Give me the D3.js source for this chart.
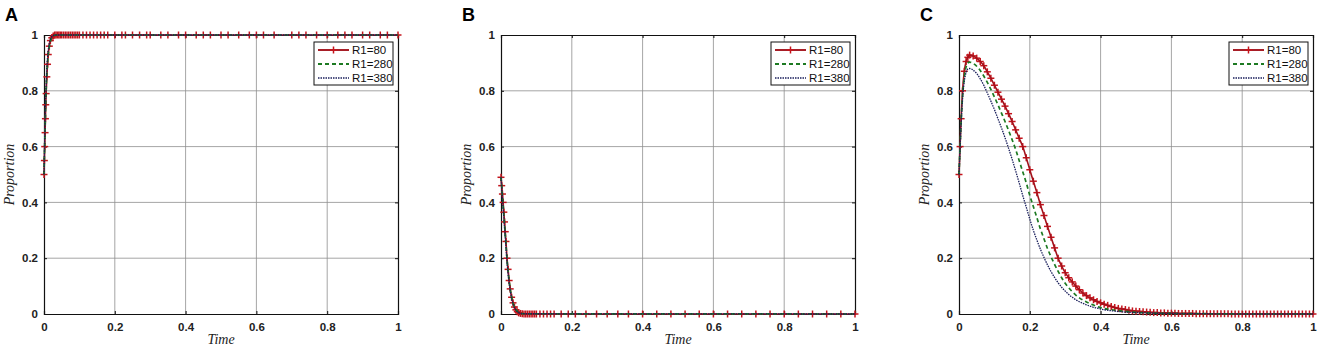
<!DOCTYPE html>
<html lang="en">
<head>
<meta charset="UTF-8">
<title>Proportion vs Time</title>
<script src="https://d3js.org/d3.v7.min.js"></script>
<style>
  body { margin: 0; background: #fff; }
  svg text { font-family: Arial, 'Liberation Sans', sans-serif; }
  .tick-label { font-size: 11.5px; font-weight: bold; fill: #222; }
  .axis-title { font-family: 'Liberation Serif', 'Times New Roman', serif !important; font-style: italic; font-size: 14px; fill: #222; }
  .legend-text { font-size: 11.5px; fill: #111; }
</style>
</head>
<body>
<svg id="chart" width="1325" height="354"></svg>
<script>
// ---- data ----
const panelLabels = ['A', 'B', 'C'];
const seriesNames = ['R1=80', 'R1=280', 'R1=380'];
const xTicks = [0, 0.2, 0.4, 0.6, 0.8, 1];
const yTicks = [0, 0.2, 0.4, 0.6, 0.8, 1];
const xTickLabels = ['0', '0.2', '0.4', '0.6', '0.8', '1'];
const yTickLabels = ['0', '0.2', '0.4', '0.6', '0.8', '1'];

// Panel A
const tA80 = [0, 0.001, 0.002, 0.003, 0.004, 0.005, 0.006, 0.008, 0.01, 0.012, 0.015, 0.018, 0.022, 0.026, 0.03,
  0.034, 0.038, 0.042, 0.046, 0.05, 0.055, 0.06, 0.065, 0.07, 0.075,
  0.08, 0.085, 0.09, 0.095, 0.1, 0.11, 0.12, 0.13, 0.14, 0.15,
  0.16, 0.17, 0.18, 0.2, 0.22, 0.23, 0.25, 0.27, 0.29, 0.3,
  0.33, 0.35, 0.38, 0.4, 0.43, 0.45, 0.47, 0.5, 0.52, 0.55,
  0.58, 0.6, 0.62, 0.65, 0.7, 0.72, 0.74, 0.77, 0.8, 0.83,
  0.85, 0.87, 0.9, 0.92, 0.95, 0.97, 1];
const yA80 = [0.5, 0.55, 0.6, 0.65, 0.7, 0.75, 0.79, 0.85, 0.895, 0.93, 0.96, 0.98, 0.99, 0.996, 1,
  1, 1, 1, 1, 1, 1, 1, 1, 1, 1,
  1, 1, 1, 1, 1, 1, 1, 1, 1, 1,
  1, 1, 1, 1, 1, 1, 1, 1, 1, 1,
  1, 1, 1, 1, 1, 1, 1, 1, 1, 1,
  1, 1, 1, 1, 1, 1, 1, 1, 1, 1,
  1, 1, 1, 1, 1, 1, 1];
const tAx = [0, 0.002, 0.004, 0.006, 0.008, 0.01, 0.013, 0.016, 0.02, 0.025, 0.03, 0.04, 1];
const yA280 = [0.5, 0.61, 0.71, 0.8, 0.86, 0.9, 0.94, 0.965, 0.985, 0.995, 0.999, 1, 1];
const yA380 = [0.5, 0.63, 0.74, 0.82, 0.88, 0.92, 0.955, 0.975, 0.99, 0.997, 1, 1, 1];

// Panel B
const tB80 = [0, 0.002, 0.004, 0.006, 0.008, 0.01, 0.012, 0.014, 0.017, 0.02,
  0.023, 0.026, 0.03, 0.034, 0.038, 0.042, 0.046, 0.05, 0.055, 0.06,
  0.065, 0.07, 0.075, 0.08, 0.085, 0.09, 0.095, 0.1, 0.11, 0.12,
  0.13, 0.14, 0.15, 0.17, 0.19, 0.21, 0.24, 0.27, 0.3, 0.33,
  0.36, 0.4, 0.44, 0.48, 0.52, 0.56, 0.6, 0.64, 0.68, 0.72,
  0.76, 0.8, 0.84, 0.88, 0.92, 0.96, 1];
const yB80 = [0.49, 0.46, 0.43, 0.4, 0.365, 0.33, 0.295, 0.26, 0.2, 0.16,
  0.12, 0.09, 0.06, 0.04, 0.025, 0.015, 0.008, 0.004, 0.002, 0.001,
  0, 0, 0, 0, 0, 0, 0, 0, 0, 0,
  0, 0, 0, 0, 0, 0, 0, 0, 0, 0,
  0, 0, 0, 0, 0, 0, 0, 0, 0, 0,
  0, 0, 0, 0, 0, 0, 0];
const tBx = [0, 0.003, 0.006, 0.01, 0.014, 0.018, 0.022, 0.026, 0.03, 0.035, 0.04, 0.05, 0.06, 1];
const yB280 = [0.49, 0.44, 0.39, 0.32, 0.25, 0.18, 0.13, 0.09, 0.06, 0.035, 0.02, 0.006, 0.001, 0];
const yB380 = [0.49, 0.435, 0.38, 0.31, 0.24, 0.17, 0.12, 0.085, 0.055, 0.032, 0.018, 0.005, 0.001, 0];

// Panel C
const tC80 = [0, 0.003, 0.006, 0.01, 0.015, 0.02, 0.025, 0.03,
  0.04, 0.05, 0.06, 0.07, 0.08, 0.09, 0.10, 0.11, 0.12, 0.13,
  0.14, 0.15, 0.16, 0.17, 0.18, 0.19, 0.20, 0.21, 0.22, 0.23,
  0.24, 0.25, 0.26, 0.27, 0.28, 0.29, 0.30, 0.31, 0.32, 0.33,
  0.34, 0.35, 0.36, 0.37, 0.38, 0.39, 0.40, 0.41, 0.42, 0.43,
  0.44, 0.45, 0.46, 0.47, 0.48, 0.49, 0.50, 0.51, 0.52, 0.53,
  0.54, 0.55, 0.56, 0.57, 0.58, 0.59, 0.60, 0.61, 0.62, 0.63,
  0.64, 0.65, 0.66, 0.67, 0.68, 0.69, 0.70, 0.71, 0.72, 0.73,
  0.74, 0.75, 0.76, 0.77, 0.78, 0.79, 0.80, 0.81, 0.82, 0.83,
  0.84, 0.85, 0.86, 0.87, 0.88, 0.89, 0.90, 0.91, 0.92, 0.93,
  0.94, 0.95, 0.96, 0.97, 0.98, 0.99, 1.00];
const yC80 = [0.5, 0.6, 0.7, 0.8, 0.87, 0.905, 0.92, 0.928,
  0.925, 0.917, 0.905, 0.89, 0.868, 0.845, 0.82, 0.795, 0.77, 0.745,
  0.718, 0.69, 0.66, 0.63, 0.6, 0.56, 0.517, 0.476, 0.435, 0.392,
  0.353, 0.314, 0.275, 0.237, 0.2, 0.172, 0.148, 0.13, 0.115, 0.1,
  0.087, 0.075, 0.066, 0.058, 0.051, 0.045, 0.04, 0.035, 0.031, 0.027,
  0.023, 0.02, 0.018, 0.016, 0.013, 0.011, 0.01, 0.009, 0.008, 0.007,
  0.006, 0.005, 0.005, 0.004, 0.004, 0.003, 0.003, 0.003, 0.002, 0.002,
  0.002, 0.002, 0.002, 0.001, 0.001, 0.001, 0.001, 0.001, 0.001, 0.001,
  0.001, 0.001, 0.001, 0, 0, 0, 0, 0, 0, 0,
  0, 0, 0, 0, 0, 0, 0, 0, 0, 0,
  0, 0, 0, 0, 0, 0, 0];
const tCx = [0, 0.003, 0.006, 0.01, 0.015, 0.02, 0.025, 0.03,
  0.04, 0.05, 0.06, 0.07, 0.08, 0.09, 0.10, 0.11, 0.12, 0.13,
  0.14, 0.15, 0.16, 0.17, 0.18, 0.19, 0.20, 0.21, 0.22, 0.23,
  0.24, 0.25, 0.26, 0.27, 0.28, 0.29, 0.30, 0.31, 0.32, 0.33,
  0.34, 0.35, 0.36, 0.37, 0.38, 0.39, 0.40,
  0.45, 0.5, 0.55, 0.6, 0.7, 0.8, 0.9, 1];
const yC280 = [0.5, 0.6, 0.69, 0.78, 0.85, 0.885, 0.9, 0.903,
  0.898, 0.888, 0.873, 0.853, 0.83, 0.805, 0.778, 0.75, 0.72, 0.69,
  0.658, 0.625, 0.59, 0.55, 0.51, 0.47, 0.425, 0.385, 0.345, 0.305,
  0.27, 0.235, 0.205, 0.178, 0.153, 0.13, 0.11, 0.094, 0.08, 0.068,
  0.058, 0.05, 0.043, 0.037, 0.032, 0.027, 0.023,
  0.012, 0.006, 0.003, 0.002, 0.001, 0, 0, 0];
const yC380 = [0.5, 0.59, 0.68, 0.77, 0.835, 0.865, 0.878, 0.88,
  0.874, 0.862, 0.843, 0.82, 0.792, 0.763, 0.733, 0.70, 0.667, 0.632,
  0.594, 0.555, 0.513, 0.47, 0.425, 0.383, 0.34, 0.3, 0.265, 0.232,
  0.203, 0.176, 0.152, 0.131, 0.112, 0.096, 0.082, 0.07, 0.06, 0.051,
  0.044, 0.038, 0.033, 0.028, 0.024, 0.021, 0.018,
  0.009, 0.005, 0.003, 0.002, 0.001, 0, 0, 0];

const panels = [
  { label: panelLabels[0], series: [[tA80, yA80], [tAx, yA280], [tAx, yA380]] },
  { label: panelLabels[1], series: [[tB80, yB80], [tBx, yB280], [tBx, yB380]] },
  { label: panelLabels[2], series: [[tC80, yC80], [tCx, yC280], [tCx, yC380]] }
];

// ---- layout ----
const svg = d3.select('#chart');
const plotLefts = [44, 501, 959];
const plotW = 354;
const plotTop = 35, plotBottom = 314;
const styles = [
  { color: '#a3121c', width: 1.6, dash: null, marker: true },
  { color: '#1d7a22', width: 1.7, dash: '4,3', marker: false },
  { color: '#1a1f5c', width: 1.3, dash: '1.5,1', marker: false }
];
const markerColor = '#c4141c';

// draw a '+' marker centred on (cx, cy)
function plus(sel, cx, cy, r) {
  sel.append('line').attr('x1', cx - r).attr('x2', cx + r).attr('y1', cy).attr('y2', cy)
    .attr('stroke', markerColor).attr('stroke-width', 1.5);
  sel.append('line').attr('x1', cx).attr('x2', cx).attr('y1', cy - r).attr('y2', cy + r)
    .attr('stroke', markerColor).attr('stroke-width', 1.5);
}

panels.forEach((p, i) => {
  const left = plotLefts[i];
  const x = d3.scaleLinear().domain([0, 1]).range([left, left + plotW]);
  const y = d3.scaleLinear().domain([0, 1]).range([plotBottom, plotTop]);
  const g = svg.append('g');

  // panel letter
  g.append('text')
    .attr('x', left - 39)
    .attr('y', 21)
    .style('font-size', '18px').style('font-weight', 'bold')
    .text(p.label);

  // grid
  g.append('g').selectAll('line').data(xTicks.slice(1, -1)).enter().append('line')
    .attr('x1', d => x(d)).attr('x2', d => x(d))
    .attr('y1', plotTop).attr('y2', plotBottom)
    .attr('stroke', '#8e8e8e').attr('stroke-width', 0.8);
  g.append('g').selectAll('line').data(yTicks.slice(1, -1)).enter().append('line')
    .attr('y1', d => y(d)).attr('y2', d => y(d))
    .attr('x1', left).attr('x2', left + plotW)
    .attr('stroke', '#8e8e8e').attr('stroke-width', 0.8);

  // axes, MATLAB style: inward ticks on all four sides
  const xAxis = g.append('g').attr('transform', `translate(0,${plotBottom})`)
    .call(d3.axisBottom(x).tickValues(xTicks).tickSize(-3).tickPadding(7)
      .tickFormat((d, k) => xTickLabels[k]));
  const yAxis = g.append('g').attr('transform', `translate(${left},0)`)
    .call(d3.axisLeft(y).tickValues(yTicks).tickSize(-3).tickPadding(6)
      .tickFormat((d, k) => yTickLabels[k]));
  g.append('g').attr('transform', `translate(0,${plotTop})`)
    .call(d3.axisTop(x).tickValues(xTicks).tickSize(-3).tickFormat(''));
  g.append('g').attr('transform', `translate(${left + plotW},0)`)
    .call(d3.axisRight(y).tickValues(yTicks).tickSize(-3).tickFormat(''));
  g.selectAll('.domain').attr('stroke', '#111').attr('stroke-width', 1.2);
  g.selectAll('.tick line').attr('stroke', '#111');
  [xAxis, yAxis].forEach(a => a.selectAll('text').attr('class', 'tick-label')
    .style('font-family', 'Arial, Liberation Sans, sans-serif'));
  xAxis.selectAll('text').attr('dy', '0.85em');

  // axis titles
  g.append('text').attr('class', 'axis-title')
    .attr('x', left + plotW / 2).attr('y', 344).attr('text-anchor', 'middle')
    .text('Time');
  g.append('text').attr('class', 'axis-title')
    .attr('transform', `translate(${left - 30},${(plotTop + plotBottom) / 2}) rotate(-90)`)
    .attr('text-anchor', 'middle')
    .text('Proportion');

  // series
  const layer = g.append('g');
  p.series.forEach((s, k) => {
    const pts = d3.zip(s[0], s[1]);
    const st = styles[k];
    const line = d3.line().x(d => x(d[0])).y(d => y(d[1])).curve(d3.curveMonotoneX);
    if (st.marker) {
      const mk = layer.append('g');
      pts.forEach(d => plus(mk, x(d[0]), y(d[1]), 3.5));
    }
    layer.append('path').datum(pts)
      .attr('d', line)
      .attr('fill', 'none')
      .attr('stroke', st.color)
      .attr('stroke-width', st.width)
      .attr('stroke-dasharray', st.dash);
  });

  // legend
  const lx = left + plotW - 84, ly = 42;
  const lg = g.append('g');
  lg.append('rect').attr('x', lx).attr('y', ly).attr('width', 79).attr('height', 43)
    .attr('fill', '#fff').attr('stroke', '#111').attr('stroke-width', 1);
  seriesNames.forEach((name, k) => {
    const yy = ly + 8 + k * 14;
    const st = styles[k];
    lg.append('line').attr('x1', lx + 4).attr('x2', lx + 35).attr('y1', yy).attr('y2', yy)
      .attr('stroke', st.color).attr('stroke-width', st.width + 0.3)
      .attr('stroke-dasharray', st.dash);
    if (st.marker) plus(lg, lx + 19.5, yy, 3.5);
    lg.append('text').attr('class', 'legend-text')
      .attr('x', lx + 38).attr('y', yy + 4).text(name);
  });
});
</script>
</body>
</html>
